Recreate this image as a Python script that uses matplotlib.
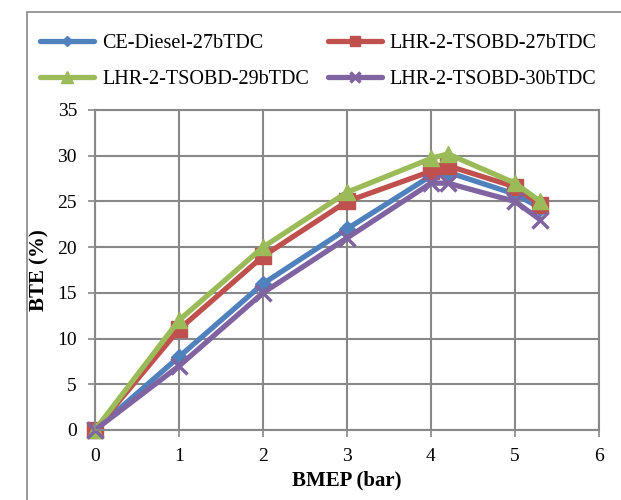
import matplotlib.pyplot as plt
from matplotlib.patches import Rectangle

# BMEP (bar) load points
bmep = [0, 1, 2, 3, 4, 4.2, 5, 5.3]

# BTE (%) per configuration
ce_diesel_27 = [0, 8, 16, 22, 27.8, 28.2, 25.8, 24.3]
lhr_tsobd_27 = [0, 11, 19, 25, 28.3, 28.9, 26.6, 24.6]
lhr_tsobd_29 = [0, 12, 20, 26, 29.7, 30.2, 27, 25]
lhr_tsobd_30 = [0, 7, 15, 21, 27, 27, 25, 23]

names = ['CE-Diesel-27bTDC', 'LHR-2-TSOBD-27bTDC',
         'LHR-2-TSOBD-29bTDC', 'LHR-2-TSOBD-30bTDC']
series = [ce_diesel_27, lhr_tsobd_27, lhr_tsobd_29, lhr_tsobd_30]
colors = ['#4F81BD', '#C0504D', '#9BBB59', '#8064A2']
markers = ['D', 's', '^', 'x']
msizes = [8, 11, 12, 11]

plt.rcParams['font.family'] = ['Liberation Serif', 'DejaVu Serif']

fig = plt.figure(figsize=(6.21, 5.0), dpi=100)
W, H = 621, 500
ax = fig.add_axes([95 / W, 1 - 430 / H, (599 - 95) / W, (430 - 110) / H])

# outer chart border
fig.patches.append(Rectangle((27 / W, -0.1), 1.1, 1 - 12 / H + 0.1,
                             transform=fig.transFigure, fill=False,
                             edgecolor='#888888', linewidth=1.2))

for y, name, c, m, ms in zip(series, names, colors, markers, msizes):
    ax.plot(bmep, y, color=c, lw=3.8, marker=m, ms=ms, mew=2.5 if m == 'x' else 1,
            mec=c, mfc=c, label=name, solid_capstyle='round', clip_on=False)

ax.set_xlim(0, 6)
ax.set_ylim(0, 35)
ax.set_xticks(range(0, 7))
ax.set_yticks(range(0, 36, 5))
ax.grid(True, color='#888888', lw=1.5)
ax.set_axisbelow(True)
for s in ax.spines.values():
    s.set_color('#888888')
    s.set_linewidth(1.5)
ax.tick_params(colors='#888888', labelcolor='black', labelsize=14, length=5, width=1.2, pad=8)
ax.set_xlabel('BMEP (bar)', fontsize=15, fontweight='bold', labelpad=4)
ax.set_ylabel('BTE (%)', fontsize=15, fontweight='bold', labelpad=6)

# legend filled row by row like the original
handles, labels = ax.get_legend_handles_labels()
order = [0, 2, 1, 3]
leg = fig.legend([handles[i] for i in order], [labels[i] for i in order],
                 loc='upper left', bbox_to_anchor=(30 / W, 1 - 24 / H),
                 ncol=2, frameon=False, fontsize=14.5, handlelength=2.7,
                 handletextpad=0.4, columnspacing=0.9, labelspacing=0.85,
                 borderpad=0, markerscale=0.7)

fig.savefig('out.png', dpi=100)
